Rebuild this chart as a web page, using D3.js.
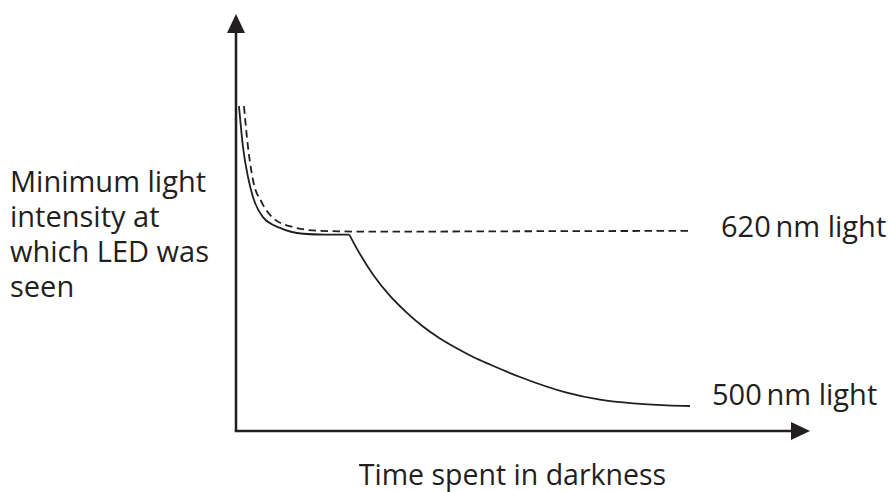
<!DOCTYPE html>
<html>
<head>
<meta charset="utf-8">
<script src="https://cdn.jsdelivr.net/npm/d3@7"></script>
<style>
  html, body { margin: 0; padding: 0; background: #fff; }
  svg { display: block; }
  text { font-family: "Open Sans", "Noto Sans", sans-serif; fill: #231f20; }
</style>
</head>
<body>
<svg id="chart" width="888" height="492"></svg>
<script>
// ---- Data (arbitrary units: time 0..100, intensity 0..100) ----
// 500 nm light, cone phase (solid, before the rod-cone break)
const time500Cone = [0.52, 1.22, 2.09, 2.96, 4.70, 7.67, 11.7, 15.5, 19.74];
const intensity500Cone = [77.9, 68.1, 60.9, 56.1, 51.3, 48.7, 47.3, 47.1, 47.1];
// 500 nm light, rod phase (solid, after the break)
const time500Rod = [19.74, 21.03, 23.92, 26.83, 29.74, 32.63, 35.54, 38.45, 41.34, 44.25,
                    49.48, 57.61, 63.41, 69.22, 75.03, 79.09];
const intensity500Rod = [47.1, 43.8, 37.4, 32.4, 28.4, 25.0, 22.2, 19.85, 17.75, 15.95,
                         12.95, 9.2, 7.5, 6.6, 6.15, 6.0];
// 620 nm light (dashed)
const time620 = [1.39, 2.09, 2.96, 4.53, 6.45, 9.93, 14.6, 23.3, 50.0, 79.1];
const intensity620 = [77.9, 68.1, 60.2, 54.7, 51.1, 48.9, 48.0, 47.8, 47.9, 48.0];

const seriesLabels = ["620\u2009nm light", "500\u2009nm light"];
const xAxisTitle = "Time spent in darkness";
const yAxisTitleLines = ["Minimum light", "intensity at", "which LED was", "seen"];

// ---- Setup ----
const svg = d3.select("#chart");
const ink = "#231f20";
const x = d3.scaleLinear().domain([0, 100]).range([236, 810]);
const y = d3.scaleLinear().domain([0, 100]).range([431, 14]);

const zip = (xs, ys) => xs.map((v, i) => [v, ys[i]]);
const line = d3.line().x(d => x(d[0])).y(d => y(d[1])).curve(d3.curveMonotoneX);

// ---- Axes with arrowheads ----
const x0 = x(0), y0 = y(0), xMax = x(100), yMax = y(100);
svg.append("line").attr("x1", x0).attr("y1", y0).attr("x2", x0).attr("y2", yMax + 12)
  .attr("stroke", ink).attr("stroke-width", 2.5);
svg.append("line").attr("x1", x0 - 1.25).attr("y1", y0).attr("x2", xMax - 12).attr("y2", y0)
  .attr("stroke", ink).attr("stroke-width", 2.5);
const ah = 19, aw = 9;
svg.append("path")
  .attr("d", `M${x0},${yMax} L${x0 - aw},${yMax + ah} L${x0 + aw},${yMax + ah} Z`)
  .attr("fill", ink);
svg.append("path")
  .attr("d", `M${xMax},${y0} L${xMax - ah},${y0 - aw} L${xMax - ah},${y0 + aw} Z`)
  .attr("fill", ink);

// ---- Curves ----
svg.append("path").attr("d", line(zip(time620, intensity620)))
  .attr("fill", "none").attr("stroke", ink).attr("stroke-width", 1.8)
  .attr("stroke-dasharray", "7.5,4.5");
svg.append("path").attr("d", line(zip(time500Cone, intensity500Cone)))
  .attr("fill", "none").attr("stroke", ink).attr("stroke-width", 1.8);
svg.append("path").attr("d", line(zip(time500Rod, intensity500Rod)))
  .attr("fill", "none").attr("stroke", ink).attr("stroke-width", 1.8);

// ---- Labels ----
const fs = 29;
svg.append("text").attr("x", 721).attr("y", 237).attr("font-size", fs).text(seriesLabels[0]);
svg.append("text").attr("x", 712).attr("y", 405).attr("font-size", fs).text(seriesLabels[1]);
svg.append("text").attr("x", 512.5).attr("y", 485).attr("font-size", 28.5)
  .attr("text-anchor", "middle").text(xAxisTitle);
const yt = svg.append("text").attr("x", 10).attr("y", 191.5).attr("font-size", fs);
yAxisTitleLines.forEach((t, i) => {
  yt.append("tspan").attr("x", 10).attr("dy", i === 0 ? 0 : 35).text(t);
});
</script>
</body>
</html>
